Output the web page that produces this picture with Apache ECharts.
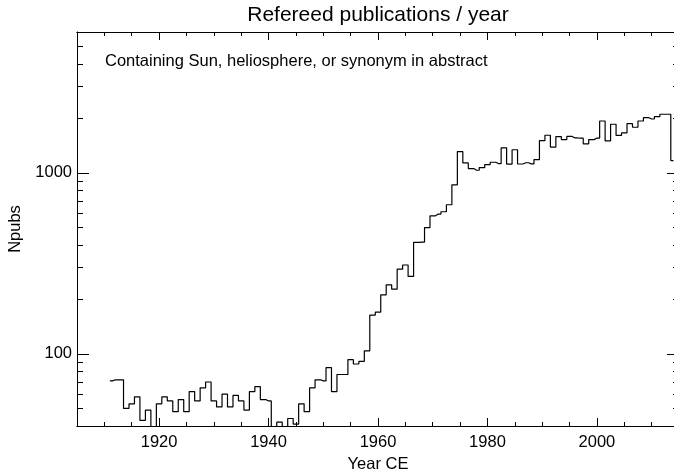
<!DOCTYPE html>
<html lang="en">
<head>
    <meta charset="UTF-8">
    <title>Refereed publications / year</title>
    <script type="text/javascript" src="https://cdn.jsdelivr.net/npm/echarts@6.0.0/dist/echarts.min.js"></script>
    <style>
        html, body { margin: 0; padding: 0; background: #fff; }
        #main { width: 674px; height: 470px; }
    </style>
</head>
<body>
<div id="main"></div>
<script type="text/javascript">

    // first year of the counts below, one value per year
    var startYear = 1911;
    var npubs = [
        71, 72, 72, 50, 53, 58, 43, 49, 35, 53,
        58, 55, 48, 56, 48, 62, 55, 65, 70, 55,
        51, 60, 51, 59, 55, 49, 62, 66, 56, 55,
        35, 42, 35, 44, 41, 53, 48, 65, 72, 71,
        84, 62, 77, 77, 93, 88, 91, 104, 164, 170,
        212, 241, 228, 294, 310, 268, 413, 415, 499, 579,
        592, 610, 667, 859, 1311, 1135, 1056, 1034, 1070, 1111,
        1145, 1126, 1375, 1118, 1342, 1120, 1138, 1121, 1185, 1507,
        1614, 1389, 1586, 1527, 1590, 1559, 1556, 1448, 1527, 1557,
        1935, 1501, 1856, 1610, 1665, 1870, 1787, 1935, 2018, 1985,
        2044, 2108, 2108, 1169
    ];

    var xMajorTicks = [1920, 1940, 1960, 1980, 2000];
    var xMinorTicks = [1910, 1915, 1925, 1930, 1935, 1945, 1950, 1955, 1965, 1970, 1975,
        1985, 1990, 1995, 2005, 2010];
    var yMinorTicks = [50, 60, 70, 80, 90, 200, 300, 400, 500, 600, 700, 800, 900,
        2000, 3000, 4000, 5000];

    var xMin = 1905, xMax = 2015;
    var yMin = 40, yMax = 6000;

    var font = 'Liberation Sans';
    var ink = '#000';

    var points = [];
    for (let i = 0; i < npubs.length; i++) {
        points.push([startYear + i, npubs[i]]);
    }

    // x axes: same range, split into major / minor ticks on both sides
    function xAxisOf(pos, ticks, len, withLabels) {
        return {
            type: 'value',
            position: pos,
            min: xMin,
            max: xMax,
            axisLine: {show: true, onZero: false, lineStyle: {color: ink, width: 1}},
            axisTick: {show: true, inside: true, length: len, customValues: ticks,
                lineStyle: {color: ink, width: 1}},
            axisLabel: withLabels ? {
                show: true, customValues: ticks, margin: 8,
                color: ink, fontFamily: font, fontSize: 16.5,
                formatter: function (v) { return String(v); }
            } : {show: false},
            splitLine: {show: false}
        };
    }

    // minor y ticks live on a hidden linear axis holding log10 values
    function yMinorAxis(pos) {
        return {
            type: 'value',
            position: pos,
            min: Math.log10(yMin),
            max: Math.log10(yMax),
            axisLine: {show: false},
            axisTick: {show: true, inside: true, length: 6,
                customValues: yMinorTicks.map(function (v) { return Math.log10(v); }),
                lineStyle: {color: ink, width: 1}},
            axisLabel: {show: false},
            splitLine: {show: false}
        };
    }

    function yLogAxis(pos, withLabels) {
        return {
            type: 'log',
            logBase: 10,
            position: pos,
            min: yMin,
            max: yMax,
            axisLine: {show: true, lineStyle: {color: ink, width: 1}},
            axisTick: {show: true, inside: true, length: 12, lineStyle: {color: ink, width: 1}},
            axisLabel: withLabels ? {
                show: true, margin: 5, color: ink, fontFamily: font, fontSize: 16.5,
                formatter: function (v) {
                    var e = Math.log10(v);
                    return Math.abs(e - Math.round(e)) < 1e-6 ? String(Math.round(v)) : '';
                }
            } : {show: false},
            splitLine: {show: false},
            name: withLabels ? 'Npubs' : '',
            nameLocation: 'middle',
            nameRotate: 90,
            nameGap: 52,
            nameTextStyle: {color: ink, fontFamily: font, fontSize: 16.5}
        };
    }

    var xBottom = xAxisOf('bottom', xMajorTicks, 8, true);
    xBottom.name = 'Year CE';
    xBottom.nameLocation = 'middle';
    xBottom.nameGap = 25;
    xBottom.nameTextStyle = {color: ink, fontFamily: font, fontSize: 16.5};

    var myChart = echarts.init(document.getElementById('main'), null, {renderer: 'canvas'});
    var option = {
        animation: false,
        backgroundColor: '#fff',
        title: [{
            text: 'Refereed publications / year',
            left: 378,
            top: 5,
            padding: 0,
            textAlign: 'center',
            textStyle: {color: ink, fontFamily: font, fontSize: 21, fontWeight: 'normal'}
        }, {
            text: 'Containing Sun, heliosphere, or synonym in abstract',
            left: 105,
            top: 53,
            padding: 0,
            textStyle: {color: ink, fontFamily: font, fontSize: 16.5, fontWeight: 'normal'}
        }],
        grid: {
            left: 77,
            right: -5,
            top: 32,
            bottom: 44,
            containLabel: false,
            outerBoundsMode: 'none'
        },
        xAxis: [
            xBottom,
            xAxisOf('bottom', xMinorTicks, 4, false),
            xAxisOf('top', xMajorTicks, 8, false),
            xAxisOf('top', xMinorTicks, 4, false)
        ],
        yAxis: [
            yLogAxis('left', true),
            yLogAxis('right', false),
            yMinorAxis('left'),
            yMinorAxis('right')
        ],
        series: [{
            type: 'line',
            xAxisIndex: 0,
            yAxisIndex: 0,
            step: 'middle',
            data: points,
            showSymbol: false,
            symbol: 'none',
            clip: true,
            lineStyle: {color: ink, width: 1.2}
        }]
    };
    myChart.setOption(option);

</script>
</body>
</html>
